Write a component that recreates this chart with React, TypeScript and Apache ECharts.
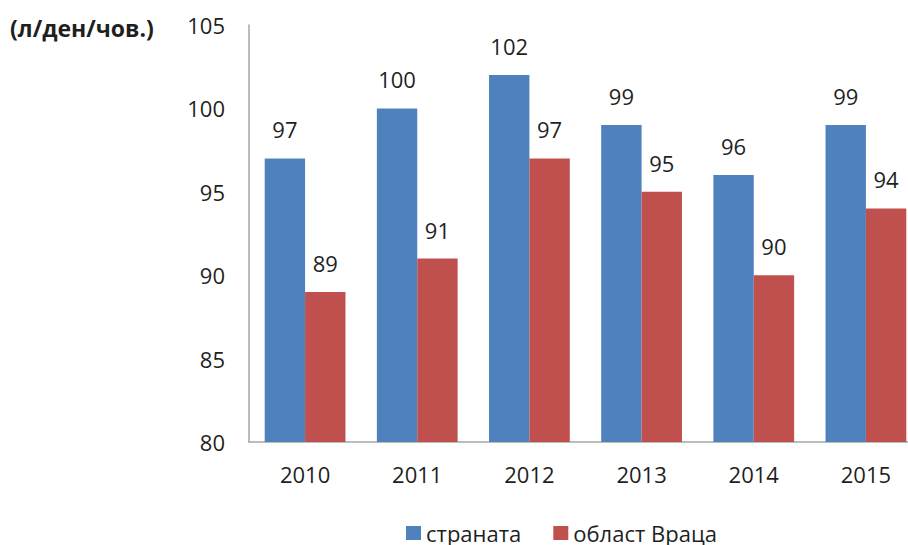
import React, { useEffect, useRef } from "react";
import * as echarts from "echarts";

const years = ["2010", "2011", "2012", "2013", "2014", "2015"];
const country = [97, 100, 102, 99, 96, 99];
const vratsa = [89, 91, 97, 95, 90, 94];
const seriesNames = ["страната", "област Враца"];
const unitLabel = "(л/ден/чов.)";

const FONT = "'Open Sans', sans-serif";
const TEXT = "#1f1f1f";

export default function App() {
  const ref = useRef<HTMLDivElement>(null);
  useEffect(() => {
    if (!ref.current) return;
    const chart = echarts.init(ref.current, undefined, { renderer: "svg" });
    const label = {
      show: true,
      position: "top" as const,
      distance: 18,
      fontFamily: FONT,
      fontSize: 22,
      color: TEXT,
    };
    chart.setOption({
      animation: false,
      title: {
        text: unitLabel,
        left: 5,
        top: 11,
        textStyle: { fontFamily: FONT, fontSize: 23, fontWeight: "bold", color: TEXT },
      },
      legend: {
        data: seriesNames,
        left: 406,
        top: 522,
        padding: 0,
        itemWidth: 15,
        itemHeight: 14,
        itemGap: 32,
        icon: "rect",
        textStyle: { fontFamily: FONT, fontSize: 22, lineHeight: 22, color: TEXT },
      },
      grid: {
        left: 249,
        right: -14,
        top: 25,
        bottom: 103,
        containLabel: false,
        outerBoundsMode: "none",
      },
      xAxis: {
        type: "category",
        data: years,
        axisLine: { lineStyle: { color: "#a6a6a6", width: 1.5 } },
        axisTick: { show: false },
        axisLabel: { fontFamily: FONT, fontSize: 22, color: TEXT, margin: 21 },
      },
      yAxis: {
        type: "value",
        min: 80,
        max: 105,
        interval: 5,
        splitLine: { show: false },
        axisLine: { show: true, lineStyle: { color: "#a6a6a6", width: 1.5 } },
        axisTick: { show: false },
        axisLabel: { fontFamily: FONT, fontSize: 22, color: TEXT, margin: 24 },
      },
      series: [
        {
          name: seriesNames[0],
          type: "bar",
          data: country,
          barGap: "0%",
          barCategoryGap: "28%",
          itemStyle: { color: "#4F81BD" },
          label,
        },
        {
          name: seriesNames[1],
          type: "bar",
          data: vratsa,
          barGap: "0%",
          barCategoryGap: "28%",
          itemStyle: { color: "#C0504D" },
          label,
        },
      ],
    });
    return () => chart.dispose();
  }, []);
  return (
    <div
      ref={ref}
      style={{ position: "absolute", left: 0, top: 0, width: 908, height: 545 }}
    />
  );
}
